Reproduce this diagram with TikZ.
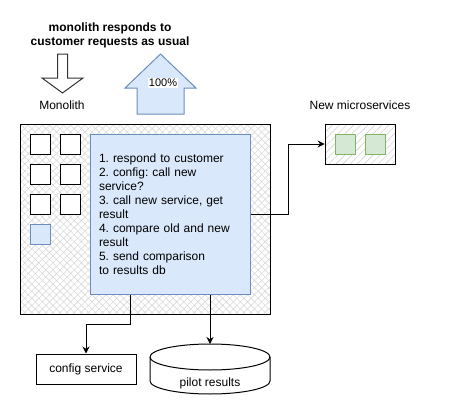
\documentclass[tikz,border=0pt]{standalone}
\usepackage{fontspec}
\setmainfont{Liberation Sans}
\frenchspacing
\usetikzlibrary{arrows.meta, patterns.meta}
\definecolor{paleblue}{HTML}{DAE8FC}
\definecolor{edgeblue}{HTML}{6C8EBF}
\definecolor{palegreen}{HTML}{D5E8D4}
\definecolor{edgegreen}{HTML}{82B366}
\tikzset{
  every node/.style={font=\fontsize{12}{14}\selectfont},
  sq/.style={draw, minimum width=20, minimum height=20, inner sep=0},
  link/.style={-{Stealth[length=7pt, width=7pt]}}
}

\begin{document}
\begin{tikzpicture}[x=1pt, y=-1pt, line width=1pt]
\useasboundingbox (0,0) rectangle (456,415);
\node (title) at (110,35) [align=center, font=\fontsize{12}{14}\selectfont\bfseries] {monolith responds to\\ customer requests as usual};
\draw [color=black!80, fill=white] (57.5,54) -- (67.5,54) -- (67.5,78) -- (83,78) -- (62.5,93) -- (42,78) -- (57.5,78) -- cycle;
\node (monolabel) at (62,105) {Monolith};
\draw [color=edgeblue, fill=paleblue] (137,114) -- (137,88) -- (125,88) -- (160.5,54) -- (196,88) -- (184,88) -- (184,114) -- cycle;
\node (share) at (163,83) [fill=white, inner sep=1pt, font=\fontsize{11}{13}\selectfont] {100\%};
\node (mono) at (145,219) [draw, minimum width=250, minimum height=190, pattern={Hatch[angle=45, distance=5pt, line width=0.6pt]}, pattern color=gray!30] {};
\foreach \y in {144,174,204}
\foreach \x in {40,70}
\node (cell\x\y) at (\x,\y) [sq, fill=white] {};
\node (newcell) at (40,234) [sq, draw=edgeblue, fill=paleblue] {};
\node (plan) at (170,214) [draw=edgeblue, fill=paleblue, minimum width=160, minimum height=160, text width=142, inner sep=9pt, align=left] {1. respond to customer\\ 2. config: call new\\ service?\\ 3. call new service, get\\ result\\ 4. compare old and new\\ result\\ 5. send comparison\\ to results db};
\node (microlabel) at (360,105) {New microservices};
\node (micro) at (360,144) [draw, minimum width=70, minimum height=40, pattern={Lines[angle=45, distance=5pt, line width=0.6pt]}, pattern color=gray!35] {};
\node (svc1) at (345,144) [sq, draw=edgegreen, fill=palegreen] {};
\node (svc2) at (375,144) [sq, draw=edgegreen, fill=palegreen] {};
\node (config) at (86,369) [draw, minimum width=100, minimum height=30] {config service};
\draw [fill=white] (150,357) -- (150,381) arc [start angle=180, end angle=0, x radius=60, y radius=13] -- (270,357) arc [start angle=0, end angle=-180, x radius=60, y radius=13] -- cycle;
\draw (150,357) arc [start angle=180, end angle=0, x radius=60, y radius=13];
\coordinate (dbtop) at (210,344);
\node (dblabel) at (210,383) {pilot results};
\draw [link] (plan.east) -- ++(38,0) |- (micro.west);
\draw [link] ([xshift=-40pt]plan.south) -- ++(0,30) -| (config.north);
\draw [link] ([xshift=40pt]plan.south) -- (dbtop);
\end{tikzpicture}
\end{document}
